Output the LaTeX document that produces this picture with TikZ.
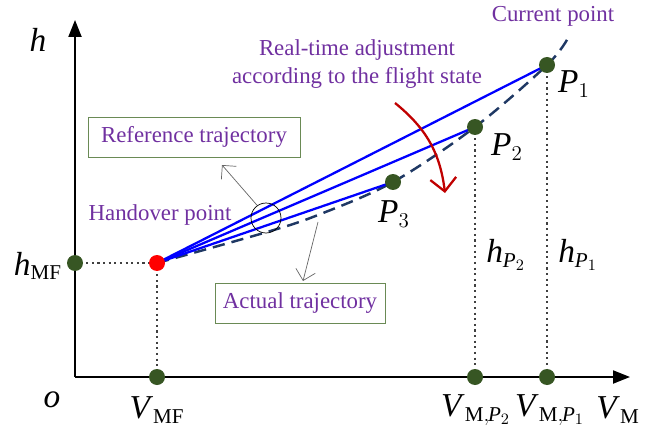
\documentclass[tikz,border=0pt]{standalone}
\usepackage{fontspec}
\setmainfont{Liberation Serif}
\usepackage{tikz}
\usetikzlibrary{arrows.meta, positioning, calc}
\definecolor{labelPurple}{HTML}{7030A0}
\definecolor{pointGreen}{HTML}{375623}
\definecolor{boxGreen}{HTML}{6A8A55}
\definecolor{curveNavy}{HTML}{1F3864}
\definecolor{adjRed}{HTML}{C00000}
\DeclareMathSizes{19}{19}{12}{9}
\newcommand{\symlabel}{\fontsize{19}{21}\selectfont}

\begin{document}
\begin{tikzpicture}[
  x=0.02cm, y=-0.02cm,
  font=\fontsize{13}{16}\selectfont,
  note/.style={text=labelPurple, align=center, inner sep=0pt},
  tagbox/.style={draw=boxGreen, text=labelPurple, minimum height=0.8cm, align=center},
  sym/.style={font=\symlabel, inner sep=0pt},
  dot/.style={circle, fill=pointGreen, inner sep=0pt, minimum size=0.32cm},
  axis/.style={-{Triangle[length=3.4mm, width=2.6mm]}, line width=1.2pt},
  guide/.style={dotted, line width=1.2pt, black!75},
  route/.style={blue, line width=1.3pt},
  pointer/.style={-{Straight Barb[length=2mm]}, black!60, thin}
]
\useasboundingbox (0,0) rectangle (651,432);

% axes
\coordinate (org) at (75,377);
\coordinate (ytop) at (75,20);
\coordinate (xend) at (630,377);
\draw[axis] (org) -- (ytop);
\draw[axis] (org) -- (xend);

\coordinate (hand) at (157,263);
\coordinate (p1) at (547,65);
\coordinate (p2) at (475,127);
\coordinate (p3) at (393,182);

% actual trajectory
\draw[curveNavy, dashed, line width=1.4pt, dash pattern=on 7pt off 4pt]
  plot[smooth, tension=0.55] coordinates {(hand) (267,232) (318,215) (p3) (p2) (p1) (568,38)};

% reference trajectories
\draw[route] (hand) -- (p1);
\draw[route] (hand) -- (p2);
\draw[route] (hand) -- (p3);

% guide lines
\coordinate (hmf) at (75,263);
\coordinate (vmf) at (157,377);
\coordinate (vp2) at (475,377);
\coordinate (vp1) at (547,377);
\draw[guide] (hmf) -- (hand);
\draw[guide] (hand) -- (vmf);
\draw[guide] (p2) -- (vp2);
\draw[guide] (p1) -- (vp1);

% points
\node[dot] (hmfdot) at (hmf) {};
\node[dot] (vmfdot) at (vmf) {};
\node[dot] (vp2dot) at (vp2) {};
\node[dot] (vp1dot) at (vp1) {};
\node[dot] (p1dot) at (p1) {};
\node[dot] (p2dot) at (p2) {};
\node[dot] (p3dot) at (p3) {};
\node[circle, fill=red, inner sep=0pt, minimum size=0.32cm] (handdot) at (hand) {};

% symbols
\node[sym] (hlab) at (38,40) {\textit{h}};
\node[sym] (olab) at (52,400) {\textit{o}};
\node[sym] (hmflab) at (38,266) {\textit{h}$_{\mathrm{MF}}$};
\node[sym] (vmflab) at (157,410) {\textit{V}$_{\mathrm{MF}}$};
\node[sym] (vp2lab) at (476,410) {\textit{V}$_{\mathrm{M},\mkern-1mu\mathit{P}_2}$};
\node[sym] (vp1lab) at (550,410) {\textit{V}$_{\mathrm{M},\mkern-1mu\mathit{P}_1}$};
\node[sym] (vmlab) at (618,410) {\textit{V}$_{\mathrm{M}}$};
\node[sym] (p1lab) at (574,84) {\textit{P}$_1$};
\node[sym] (p2lab) at (507,147) {\textit{P}$_2$};
\node[sym] (p3lab) at (394,214) {\textit{P}$_3$};
\node[sym] (hp2lab) at (506,255) {\textit{h}$_{\mathit{P}_2}$};
\node[sym] (hp1lab) at (578,255) {\textit{h}$_{\mathit{P}_1}$};

% notes
\node[note] (curnote) at (553,16) {Current point};
\node[note] (adjnote) at (357,64) {Real-time adjustment\\according to the flight state};
\node[note] (handnote) at (160,215) {Handover point};
\node[tagbox, minimum width=4.24cm] (refbox) at (194,137) {Reference trajectory};
\node[tagbox, minimum width=3.4cm] (actbox) at (300,303) {Actual trajectory};

% markers
\node[draw, circle, thin, inner sep=0pt, minimum size=0.6cm] (ring) at (266,218) {};
\coordinate (reftip) at (222,165);
\draw[pointer] (ring.125) -- (reftip);
\coordinate (actfrom) at (318,222);
\coordinate (acttip) at (303,281);
\draw[pointer] (actfrom) -- (acttip);

\coordinate (adjA) at (395,103);
\coordinate (adjB) at (445,193);
\draw[adjRed, line width=1.3pt, -{Straight Barb[length=2.6mm]}] (adjA) to[bend left=22] (adjB);
\end{tikzpicture}
\end{document}
